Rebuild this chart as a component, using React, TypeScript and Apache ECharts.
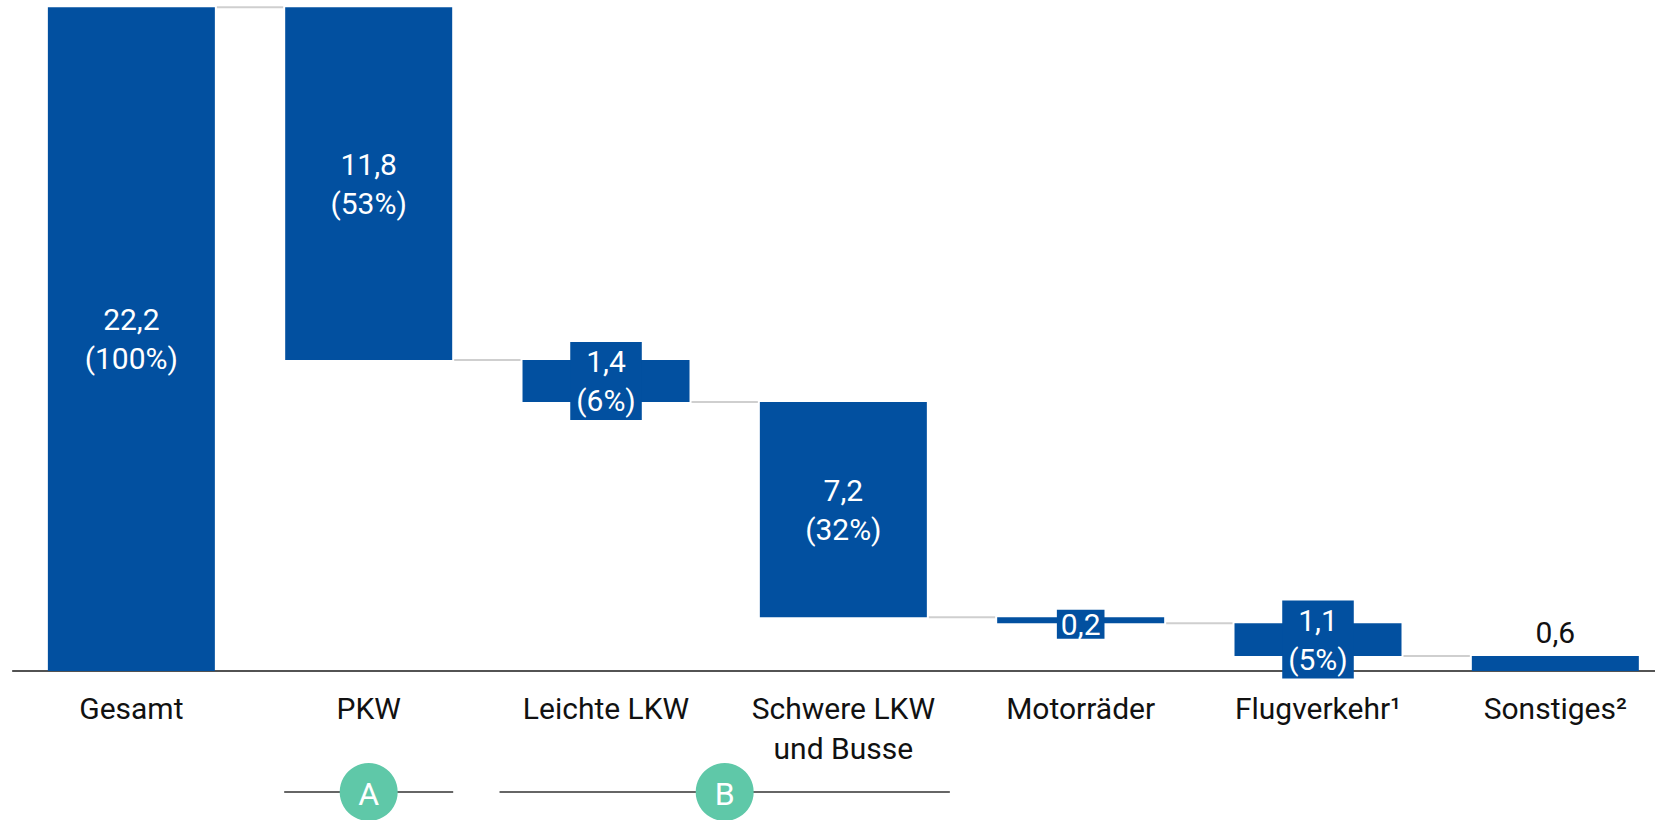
import React, { useEffect, useRef } from "react";
import * as echarts from "echarts";

// ---- data ----
const categories = [
  "Gesamt",
  "PKW",
  "Leichte LKW",
  "Schwere LKW\nund Busse",
  "Motorräder",
  "Flugverkehr¹",
  "Sonstiges²",
];
const values = [22.2, 11.8, 1.4, 7.2, 0.2, 1.1, 0.6];
const shares: (number | null)[] = [100, 53, 6, 32, null, 5, null];
const boxedLabel = [false, false, true, false, true, true, false];
const labelAbove = [false, false, false, false, false, false, true];
const groups = [
  { letter: "A", from: 1, to: 1 },
  { letter: "B", from: 2, to: 3 },
];

// ---- styles ----
const BLUE = "#0250a0";
const MINT = "#5fc8a8";
const FONT = "Roboto, 'Noto Sans', sans-serif";
const BAR_W = 167;

const fmt = (v: number) => v.toFixed(1).replace(".", ",");

export default function App() {
  const ref = useRef<HTMLDivElement>(null);

  useEffect(() => {
    const chart = echarts.init(ref.current!, null, { renderer: "svg" });

    // waterfall geometry from values
    const bases: number[] = [0];
    const heights: number[] = [values[0]];
    const levels: number[] = [values[0]];
    let level = values[0];
    for (let i = 1; i < values.length; i++) {
      const next = +(level - values[i]).toFixed(3);
      const base = Math.max(0, next);
      bases.push(base);
      heights.push(+(level - base).toFixed(3));
      levels.push(base);
      level = base;
    }
    const connectors = levels.slice(0, -1).map((lv, i) => [i, lv]);

    const valueData = heights.map((h, i) => {
      const single = shares[i] == null;
      const label: any = {};
      if (boxedLabel[i]) {
        label.backgroundColor = BLUE;
        label.padding = single ? [1, 4, 1, 4] : [0, 6, 0, 6];
        if (single) {
          label.lineHeight = 27;
          label.offset = [0, 4];
        }
      }
      if (labelAbove[i]) {
        label.position = "top";
        label.color = "#111";
        label.distance = 4;
      }
      return { value: h, label };
    });

    chart.setOption({
      animation: false,
      grid: { left: 12.7, top: 7.3, right: 0, height: 663.7 },
      xAxis: {
        type: "category",
        data: categories,
        axisLine: { lineStyle: { color: "#1a1a1a", width: 1.5 } },
        axisTick: { show: false },
        axisLabel: {
          color: "#111",
          fontFamily: FONT,
          fontWeight: 400,
          fontSize: 30,
          lineHeight: 40,
          margin: 17,
          interval: 0,
        },
      },
      yAxis: {
        type: "value",
        min: 0,
        max: 22.2,
        show: false,
        splitLine: { show: false },
      },
      series: [
        {
          type: "bar",
          stack: "w",
          data: bases,
          barWidth: BAR_W,
          itemStyle: { color: "transparent" },
          silent: true,
        },
        {
          type: "bar",
          stack: "w",
          data: valueData,
          barWidth: BAR_W,
          itemStyle: { color: BLUE },
          label: {
            show: true,
            position: "inside",
            color: "#fff",
            fontFamily: FONT,
            fontWeight: 400,
            fontSize: 30,
            lineHeight: 39,
            formatter: (p: any) => {
              const i = p.dataIndex;
              const s = shares[i];
              return s == null ? fmt(values[i]) : fmt(values[i]) + "\n(" + s + "%)";
            },
          },
          z: 3,
        },
        {
          type: "custom",
          coordinateSystem: "cartesian2d",
          data: connectors,
          silent: true,
          z: 1,
          renderItem: (params: any, api: any) => {
            const p = api.coord([api.value(0), api.value(1)]);
            const bw = api.size([1, 0])[0];
            const half = BAR_W / 2 + 2;
            return {
              type: "line",
              shape: { x1: p[0] + half, y1: p[1], x2: p[0] + bw - half, y2: p[1] },
              style: { stroke: "#cfcfcf", lineWidth: 2 },
            };
          },
        },
      ],
    });

    // group brackets (A, B) under the axis labels
    const px = (i: number) => chart.convertToPixel({ xAxisIndex: 0 }, i) as number;
    const yLine = 792;
    const graphic: any[] = [];
    groups.forEach((g) => {
      const ext = g.from === g.to ? 1 : 23;
      const x1 = px(g.from) - BAR_W / 2 - ext;
      const x2 = px(g.to) + BAR_W / 2 + ext;
      const cx = (x1 + x2) / 2;
      graphic.push({
        type: "line",
        shape: { x1, y1: yLine, x2, y2: yLine },
        style: { stroke: "#333", lineWidth: 1.5 },
        z: 1,
      });
      graphic.push({
        type: "circle",
        shape: { cx, cy: yLine, r: 29 },
        style: { fill: MINT },
        z: 2,
      });
      graphic.push({
        type: "text",
        x: cx,
        y: yLine + 2,
        style: {
          text: g.letter,
          fill: "#fff",
          font: `400 32px ${FONT}`,
          align: "center",
          verticalAlign: "middle",
        },
        z: 3,
      });
    });
    chart.setOption({ graphic });

    return () => chart.dispose();
  }, []);

  return (
    <div
      ref={ref}
      style={{ position: "fixed", left: 0, top: 0, width: 1674, height: 820, background: "#fff" }}
    />
  );
}
